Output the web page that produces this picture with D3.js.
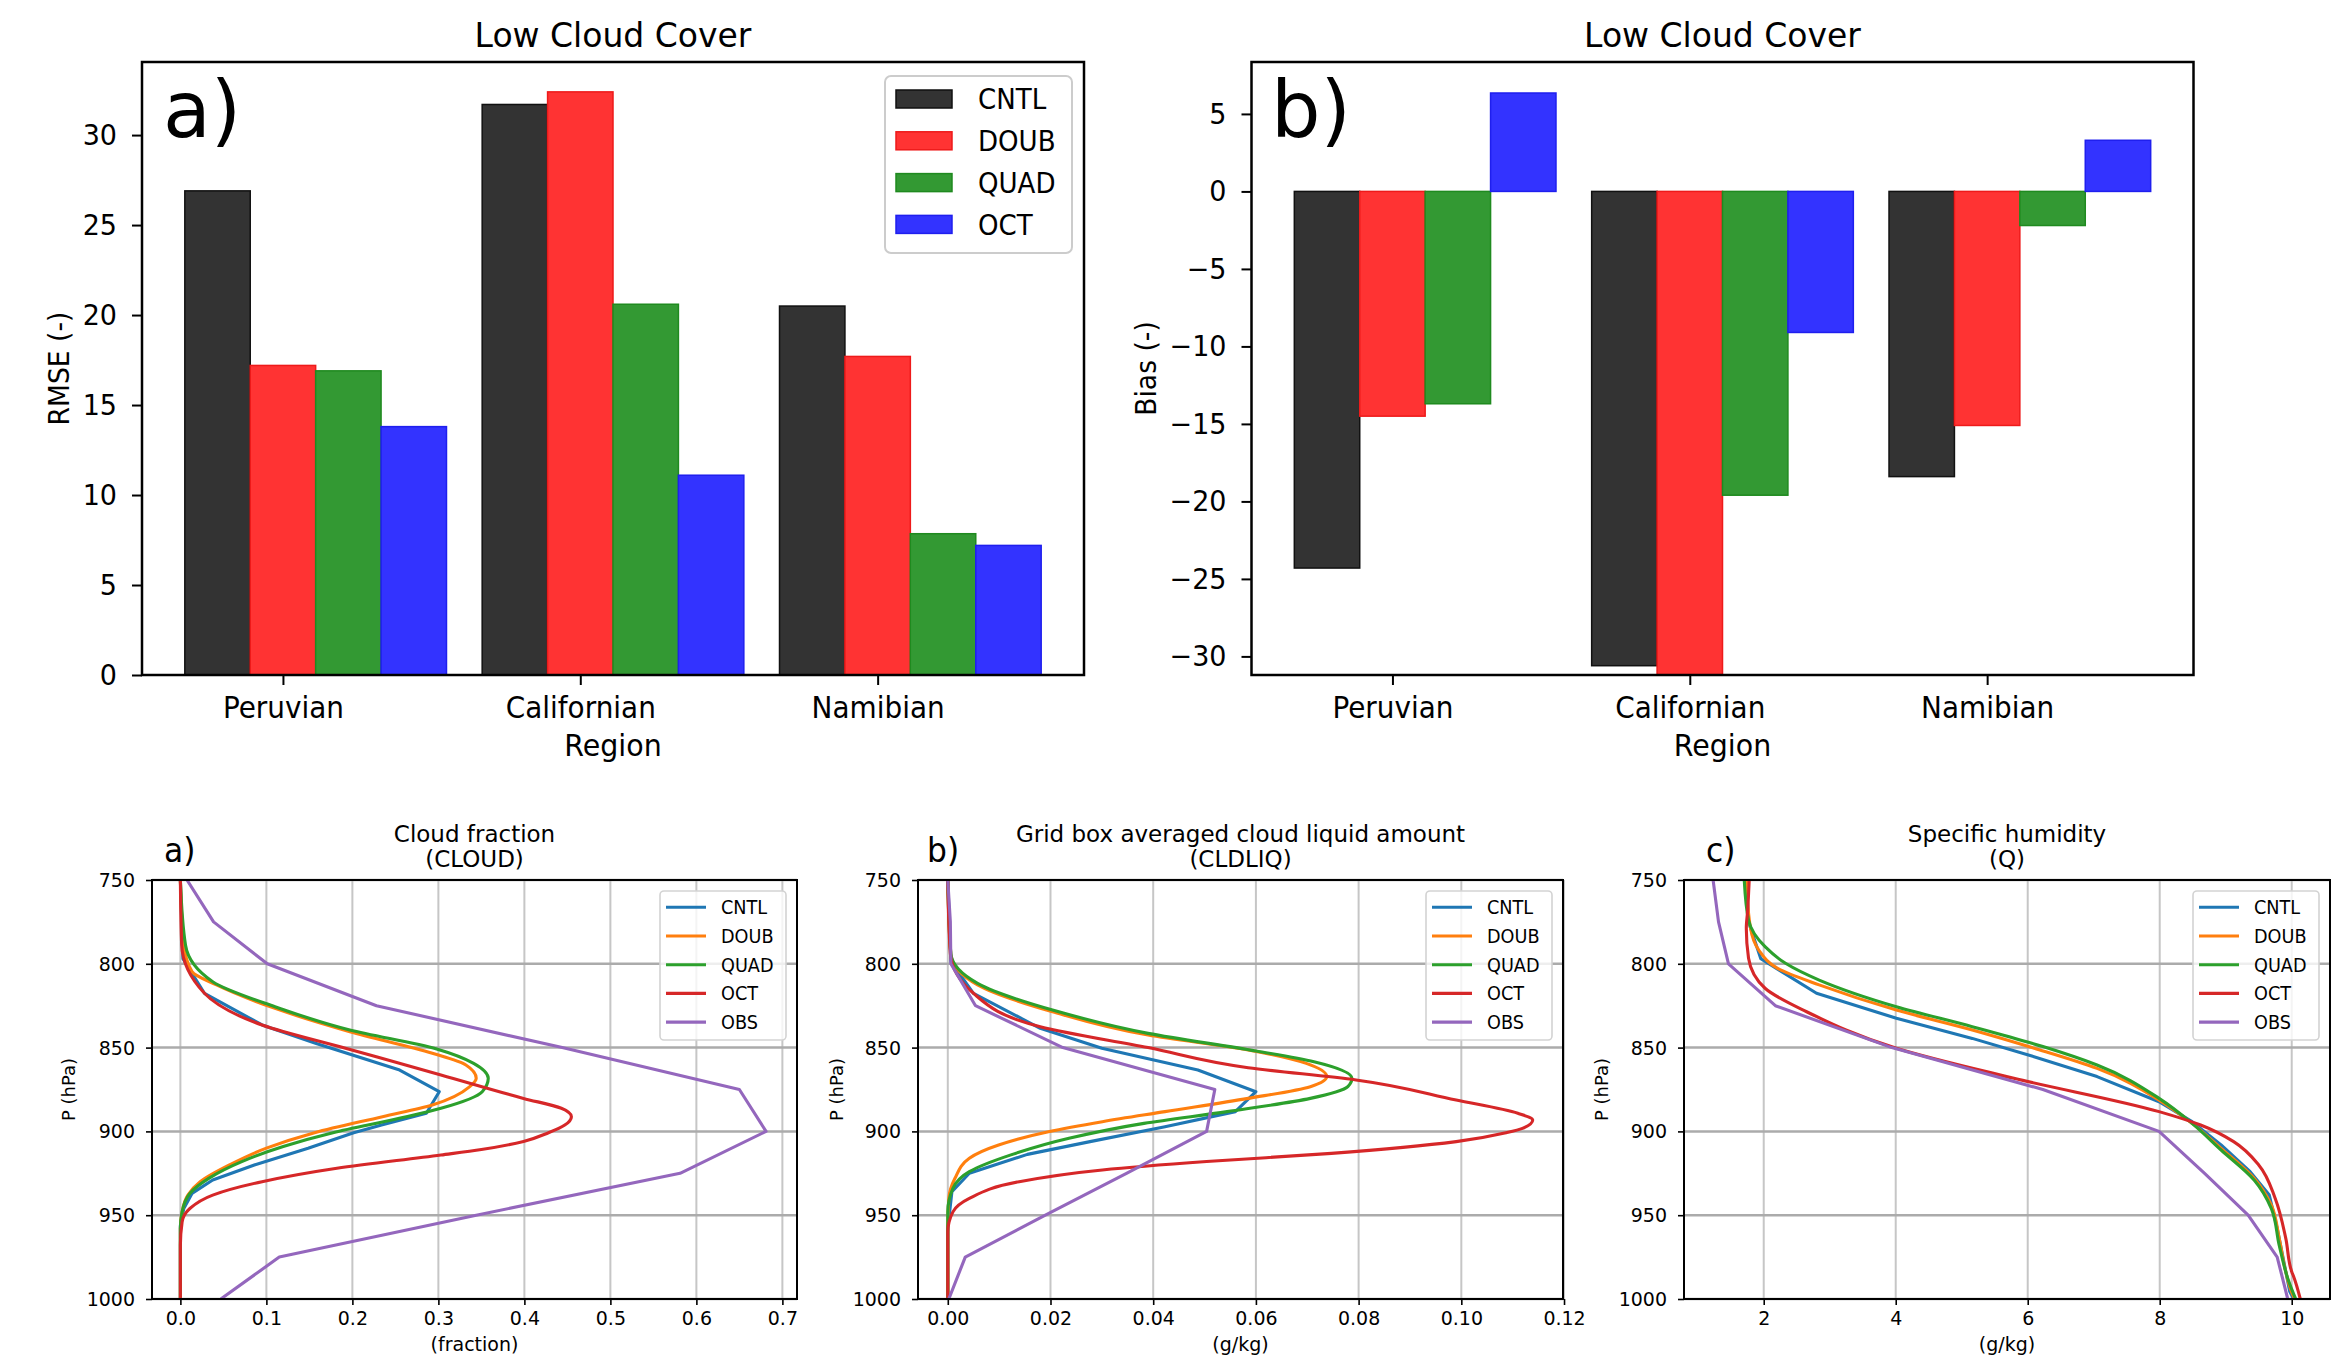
<!DOCTYPE html>
<html>
<head>
<meta charset="utf-8">
<script src="https://cdn.jsdelivr.net/npm/d3@7"></script>
<style>
  body { margin: 0; background: #fff; }
  svg text { font-family: "DejaVu Sans", sans-serif; fill: #000; }
</style>
</head>
<body>
<svg id="fig" width="2347" height="1358"></svg>
<script>
// ---------- Low cloud cover statistics per region ----------
const regions = ["Peruvian", "Californian", "Namibian"];
const experiments = ["CNTL", "DOUB", "QUAD", "OCT"];

const rmseCNTL = [26.9, 31.7, 20.5];
const rmseDOUB = [17.2, 32.4, 17.7];
const rmseQUAD = [16.9, 20.6, 7.85];
const rmseOCT  = [13.8, 11.1, 7.2];

const biasCNTL = [-24.3, -30.6, -18.4];
const biasDOUB = [-14.5, -31.2, -15.1];
const biasQUAD = [-13.7, -19.6, -2.2];
const biasOCT  = [6.35, -9.1, 3.3];

const rmseTicks = [0, 5, 10, 15, 20, 25, 30];
const biasTicks = [-30, -25, -20, -15, -10, -5, 0, 5];

// ---------- Vertical profiles: [value, pressure hPa] ----------
const profileNames = ["CNTL", "DOUB", "QUAD", "OCT", "OBS"];
const pressureTicks = [750, 800, 850, 900, 950, 1000];

const cloudCNTL = [[0,750],[0.003,797],[0.028,817.6],[0.095,836.5],[0.158,847.5],[0.255,863.4],[0.301,876.3],[0.286,889.2],[0.235,896],[0.2015,900.8],[0.1485,910],[0.086,920],[0.0376,929],[0.0135,937],[0.004,946],[0,956],[0,1000]];
const cloudDOUB = [[0,750],[0.004,788.8],[0.0135,804.7],[0.042,812.6],[0.11,826.6],[0.197,840.5],[0.293,853.4],[0.332,860.4],[0.344,868.3],[0.3365,873.3],[0.293,884.2],[0.235,891.2],[0.156,900.8],[0.1,910],[0.057,920],[0.023,930],[0.0087,938],[0.002,948],[0,958],[0,1000]];
const cloudQUAD = [[0,750],[0.006,789],[0.0376,810.7],[0.11,825.6],[0.197,839.5],[0.298,850.8],[0.341,859.4],[0.358,868.3],[0.351,876.3],[0.303,886.2],[0.2546,892.2],[0.1774,900.8],[0.1196,909],[0.0714,918],[0.033,928],[0.011,937],[0.002,948],[0,958],[0,1000]];
const cloudOCT  = [[0,750],[0.0015,788.8],[0.028,817.6],[0.095,836.5],[0.192,850.4],[0.303,866.3],[0.399,880.3],[0.443,886.2],[0.4547,891.2],[0.447,896.2],[0.428,900.8],[0.399,906],[0.35,910.8],[0.303,914.1],[0.182,922],[0.095,930],[0.0376,938],[0.011,946],[0.002,954],[0,968],[0,1000]];
const cloudOBS  = [[0.0077,750],[0.0386,775],[0.101,800],[0.228,825],[0.444,850],[0.650,875],[0.681,900],[0.581,925],[0.344,950],[0.115,975],[0.047,1000]];
const cloudTicks = [0, 0.1, 0.2, 0.3, 0.4, 0.5, 0.6, 0.7];

const liqCNTL = [[0,750],[0.0006,798.7],[0.005,817.6],[0.018,838.5],[0.030,850.4],[0.0487,863.4],[0.060,876.3],[0.056,888.2],[0.0423,897.2],[0.0277,906.1],[0.0155,913.7],[0.0042,925],[0.0008,936],[0,958],[0,1000]];
const liqDOUB = [[0,750],[0.0006,794.7],[0.0058,812.6],[0.0204,828.6],[0.039,842.5],[0.0585,851.4],[0.0698,859.4],[0.0738,867.3],[0.0706,873.3],[0.0585,880.3],[0.0423,888.2],[0.0301,894.2],[0.0196,900.2],[0.0099,908.1],[0.0042,916],[0.0014,928],[0.0002,940],[0,958],[0,1000]];
const liqQUAD = [[0,750],[0.0006,794],[0.0058,811.7],[0.0204,827.6],[0.039,841.5],[0.060,852],[0.0713,858.4],[0.0787,868.3],[0.0779,873.3],[0.0706,880.3],[0.0544,888.2],[0.0382,895.2],[0.0236,904.1],[0.0123,914],[0.0042,924],[0.001,934],[0,948],[0,1000]];
const liqOCT  = [[0,750],[0.0005,794],[0.005,817.6],[0.018,837.5],[0.039,850],[0.0585,862],[0.0795,869.3],[0.099,881.3],[0.111,889.2],[0.1139,893.2],[0.1119,898.2],[0.1087,900.8],[0.099,906.1],[0.0747,913.1],[0.0504,918],[0.0301,923],[0.0139,930],[0.0042,940],[0.001,948],[0,960],[0,1000]];
const liqOBS  = [[0,750],[0.0005,775],[0.0006,800],[0.0054,825],[0.0224,850],[0.052,875],[0.0504,900],[0.0348,925],[0.019,950],[0.0034,975],[0.0002,1000]];
const liqTicks = [0, 0.02, 0.04, 0.06, 0.08, 0.10, 0.12];

const qCNTL = [[1.736,750],[1.77,775],[1.956,797],[2.80,817.6],[4.01,832.5],[5.16,844.5],[6.01,854.4],[7.05,867.3],[7.99,882.3],[8.49,894.2],[8.93,908.1],[9.37,924],[9.66,938],[9.78,957.8],[9.88,977.7],[9.97,995.6],[10.03,1000]];
const qDOUB = [[1.736,750],[1.80,778.8],[1.925,791.8],[2.21,802.7],[2.84,812.6],[4.01,827.6],[5.16,839.5],[6.10,850.4],[7.05,862.4],[7.99,881.3],[8.49,895.2],[8.93,910.1],[9.43,928],[9.69,943.9],[9.81,963.8],[9.91,983.7],[10.03,998.6],[10.05,1000]];
const qQUAD = [[1.705,750],[1.77,774],[2.02,789.8],[2.33,799.7],[2.84,809.7],[4.01,825.6],[5.16,837.5],[6.23,849.4],[7.05,860.4],[7.99,880.3],[8.49,895.2],[8.93,911.1],[9.43,929],[9.69,945.9],[9.81,967.8],[9.94,987.7],[10.06,1000]];
const qOCT  = [[1.78,750],[1.755,768.9],[1.736,778.8],[1.77,796.7],[2.02,814.6],[2.65,828.6],[4.01,850.4],[5.79,868.3],[7.99,888.2],[8.62,896.2],[9.12,906.1],[9.50,920],[9.75,940],[9.91,963.8],[10.0,983.7],[10.03,986.7],[10.13,1000]];
const qOBS  = [[1.233,750],[1.315,775],[1.466,800],[2.176,825],[3.94,850],[6.23,875],[7.99,900],[8.68,925],[9.34,950],[9.78,975],[9.94,1000]];
const qTicks = [2, 4, 6, 8, 10];

// ---------- styling ----------
const barFill = ["#333333", "#ff3333", "#339933", "#3333ff"];
const barEdge = ["#111111", "#ee1a1a", "#1f8a1f", "#1f1fee"];
const lineColors = ["#1f77b4", "#ff7f0e", "#2ca02c", "#d62728", "#9467bd"];
const barWidth = 0.22;
const profileStroke = 3.1;

const svg = d3.select("#fig");

// Horizontally condense text around its anchor point
function squeeze(sel, sx) {
  sel.each(function () {
    const t = d3.select(this);
    const x = +t.attr("x") || 0;
    t.attr("transform", `translate(${x},0) scale(${sx},1) translate(${-x},0)`);
  });
}
function label(parent, x, y, text, size, sx, anchor = "middle") {
  return parent.append("text")
    .attr("transform", `translate(${x},${y}) scale(${sx},1)`)
    .attr("text-anchor", anchor)
    .attr("font-size", size)
    .text(text);
}
function vlabel(parent, x, y, text, size, sx) {
  return parent.append("text")
    .attr("transform", `translate(${x},${y}) rotate(-90) scale(${sx},1)`)
    .attr("text-anchor", "middle")
    .attr("dy", "0.36em")
    .attr("font-size", size)
    .text(text);
}

// ---------- bar panels ----------
function drawBars(cfg) {
  const g = svg.append("g");
  const x = d3.scaleLinear().domain([-0.254, 2.914]).range([cfg.left, cfg.right]);
  const y = d3.scaleLinear().domain(cfg.yDomain).range([cfg.bottom, cfg.top]);

  svg.append("clipPath").attr("id", cfg.id + "-clip")
    .append("rect").attr("x", cfg.left).attr("y", cfg.top)
    .attr("width", cfg.right - cfg.left).attr("height", cfg.bottom - cfg.top);

  const bars = g.append("g").attr("clip-path", `url(#${cfg.id}-clip)`);
  cfg.series.forEach((vals, k) => {
    bars.selectAll(null).data(vals).join("rect")
      .attr("x", (d, i) => x(i + k * barWidth - barWidth / 2))
      .attr("width", x(barWidth) - x(0))
      .attr("y", d => y(Math.max(0, d)))
      .attr("height", d => Math.abs(y(d) - y(0)))
      .attr("fill", barFill[k])
      .attr("stroke", barEdge[k])
      .attr("stroke-width", 1.5);
  });

  const ya = g.append("g").attr("transform", `translate(${cfg.left},0)`)
    .call(d3.axisLeft(y).tickValues(cfg.ticks).tickFormat(d3.format("d"))
      .tickSize(10).tickPadding(15).tickSizeOuter(0));
  ya.select(".domain").remove();
  ya.selectAll("line").attr("stroke", "#000").attr("stroke-width", 2);
  ya.selectAll("text").attr("font-size", 29).attr("font-family", "DejaVu Sans").call(squeeze, 0.93);

  const xa = g.append("g").attr("transform", `translate(0,${cfg.bottom})`)
    .call(d3.axisBottom(x).tickValues(regions.map((r, i) => i + barWidth))
      .tickFormat((d, i) => regions[i]).tickSize(10).tickPadding(12).tickSizeOuter(0));
  xa.select(".domain").remove();
  xa.selectAll("line").attr("stroke", "#000").attr("stroke-width", 2);
  xa.selectAll("text").attr("font-size", 30).attr("font-family", "DejaVu Sans").call(squeeze, 0.93);

  g.append("rect").attr("x", cfg.left).attr("y", cfg.top)
    .attr("width", cfg.right - cfg.left).attr("height", cfg.bottom - cfg.top)
    .attr("fill", "none").attr("stroke", "#000").attr("stroke-width", 2.5);

  const cx = (cfg.left + cfg.right) / 2;
  label(g, cx, 47, "Low Cloud Cover", 33, 1.0);
  label(g, cx, 756, "Region", 30, 0.95);
  vlabel(g, cfg.yLabelX, (cfg.top + cfg.bottom) / 2, cfg.yLabel, 28, 0.95);
  g.append("text").attr("x", cfg.tagX).attr("y", 137).attr("font-size", 78).text(cfg.tag);

  if (cfg.legend) {
    const lg = g.append("g");
    lg.append("rect").attr("x", 885).attr("y", 76).attr("width", 187).attr("height", 177)
      .attr("rx", 6).attr("fill", "#fff").attr("fill-opacity", 0.8)
      .attr("stroke", "#cccccc").attr("stroke-width", 2);
    experiments.forEach((name, k) => {
      const cy = 99 + k * 41.8;
      lg.append("rect").attr("x", 896).attr("y", cy - 9).attr("width", 56).attr("height", 18)
        .attr("fill", barFill[k]).attr("stroke", barEdge[k]).attr("stroke-width", 1.5);
      lg.append("text").attr("x", 978).attr("y", cy).attr("dy", "0.36em")
        .attr("font-size", 29).text(name).call(squeeze, 0.9);
    });
  }
}

drawBars({
  id: "rmse", left: 142, right: 1084, top: 62, bottom: 675,
  yDomain: [0, 34.06], ticks: rmseTicks,
  series: [rmseCNTL, rmseDOUB, rmseQUAD, rmseOCT],
  yLabel: "RMSE (-)", yLabelX: 59, tag: "a)", tagX: 163, legend: true
});
drawBars({
  id: "bias", left: 1251.5, right: 2193.5, top: 62, bottom: 675,
  yDomain: [-31.2, 8.35], ticks: biasTicks,
  series: [biasCNTL, biasDOUB, biasQUAD, biasOCT],
  yLabel: "Bias (-)", yLabelX: 1146, tag: "b)", tagX: 1271, legend: false
});

// ---------- profile panels ----------
function drawProfile(cfg) {
  const g = svg.append("g");
  const top = 880, bottom = 1299;
  const x = d3.scaleLinear().domain(cfg.xDomain).range([cfg.left, cfg.right]);
  const y = d3.scaleLinear().domain([750, 1000]).range([top, bottom]);

  // grid
  g.append("g").selectAll("line").data(cfg.ticks).join("line")
    .attr("x1", d => x(d)).attr("x2", d => x(d)).attr("y1", top).attr("y2", bottom)
    .attr("stroke", "#c6c6c6").attr("stroke-width", 2);
  g.append("g").selectAll("line").data(pressureTicks).join("line")
    .attr("x1", cfg.left).attr("x2", cfg.right).attr("y1", d => y(d)).attr("y2", d => y(d))
    .attr("stroke", "#ababab").attr("stroke-width", 2.5);

  svg.append("clipPath").attr("id", cfg.id + "-clip")
    .append("rect").attr("x", cfg.left).attr("y", top)
    .attr("width", cfg.right - cfg.left).attr("height", bottom - top);

  const lines = g.append("g").attr("clip-path", `url(#${cfg.id}-clip)`);
  cfg.series.forEach((pts, k) => {
    const smooth = k === 1 || k === 2 || k === 3;
    const line = d3.line().x(d => x(d[0])).y(d => y(d[1]))
      .curve(smooth ? d3.curveMonotoneY : d3.curveLinear);
    lines.append("path").datum(pts).attr("d", line)
      .attr("fill", "none").attr("stroke", lineColors[k]).attr("stroke-width", profileStroke)
      .attr("stroke-linejoin", "round");
  });

  const ya = g.append("g").attr("transform", `translate(${cfg.left},0)`)
    .call(d3.axisLeft(y).tickValues(pressureTicks).tickFormat(d3.format("d"))
      .tickSize(6).tickPadding(11).tickSizeOuter(0));
  ya.select(".domain").remove();
  ya.selectAll("line").attr("stroke", "#000").attr("stroke-width", 1.6);
  ya.selectAll("text").attr("font-size", 20).attr("font-family", "DejaVu Sans").call(squeeze, 0.95);

  const xa = g.append("g").attr("transform", `translate(0,${bottom})`)
    .call(d3.axisBottom(x).tickValues(cfg.ticks).tickFormat(cfg.fmt)
      .tickSize(6).tickPadding(6).tickSizeOuter(0));
  xa.select(".domain").remove();
  xa.selectAll("line").attr("stroke", "#000").attr("stroke-width", 1.6);
  xa.selectAll("text").attr("font-size", 20).attr("font-family", "DejaVu Sans").call(squeeze, 0.95);

  g.append("rect").attr("x", cfg.left).attr("y", top)
    .attr("width", cfg.right - cfg.left).attr("height", bottom - top)
    .attr("fill", "none").attr("stroke", "#000").attr("stroke-width", 2);

  const cx = (cfg.left + cfg.right) / 2;
  label(g, cx, 842, cfg.title, 23, 1.0);
  label(g, cx, 867, cfg.code, 23, 1.0);
  label(g, cx, 1351, cfg.unit, 19, 1.0);
  vlabel(g, cfg.yLabelX, (top + bottom) / 2, "P (hPa)", 18, 1.0);
  label(g, cfg.tagX, 862, cfg.tag, 33, 0.95, "start");

  // legend
  const bx = cfg.right - 137, by = 891;
  const lg = g.append("g");
  lg.append("rect").attr("x", bx).attr("y", by).attr("width", 126).attr("height", 149)
    .attr("rx", 4).attr("fill", "#fff").attr("fill-opacity", 0.8)
    .attr("stroke", "#d3d3d3").attr("stroke-width", 1.6);
  profileNames.forEach((name, k) => {
    const cy = 907.3 + k * 28.7;
    lg.append("line").attr("x1", bx + 6).attr("x2", bx + 46).attr("y1", cy).attr("y2", cy)
      .attr("stroke", lineColors[k]).attr("stroke-width", profileStroke);
    lg.append("text").attr("x", bx + 61).attr("y", cy).attr("dy", "0.36em")
      .attr("font-size", 19).text(name).call(squeeze, 0.93);
  });
}

drawProfile({
  id: "cloud", left: 152, right: 797, xDomain: [-0.033, 0.717],
  ticks: cloudTicks, fmt: d3.format(".1f"),
  series: [cloudCNTL, cloudDOUB, cloudQUAD, cloudOCT, cloudOBS],
  title: "Cloud fraction", code: "(CLOUD)", unit: "(fraction)",
  yLabelX: 69, tag: "a)", tagX: 164
});
drawProfile({
  id: "cldliq", left: 918, right: 1563, xDomain: [-0.0058, 0.1198],
  ticks: liqTicks, fmt: d3.format(".2f"),
  series: [liqCNTL, liqDOUB, liqQUAD, liqOCT, liqOBS],
  title: "Grid box averaged cloud liquid amount", code: "(CLDLIQ)", unit: "(g/kg)",
  yLabelX: 837, tag: "b)", tagX: 927
});
drawProfile({
  id: "q", left: 1684, right: 2330, xDomain: [0.792, 10.58],
  ticks: qTicks, fmt: d3.format("d"),
  series: [qCNTL, qDOUB, qQUAD, qOCT, qOBS],
  title: "Specific humidity", code: "(Q)", unit: "(g/kg)",
  yLabelX: 1602, tag: "c)", tagX: 1706
});
</script>
</body>
</html>
